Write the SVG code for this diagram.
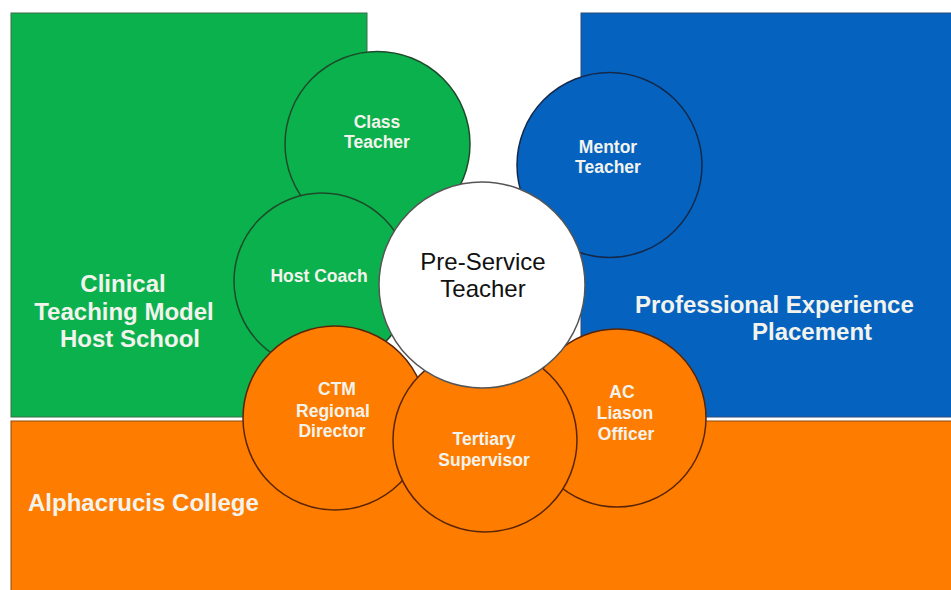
<svg xmlns="http://www.w3.org/2000/svg" width="951" height="590" viewBox="0 0 951 590">
  <style>
    .lbl { font-family: "Liberation Sans", Arial, sans-serif; font-weight: bold; fill: #F3F3EE; text-anchor: middle; }
    .sm { font-size: 17.5px; }
    .big { font-size: 24px; }
    .ctr { font-family: "Liberation Sans", Arial, sans-serif; font-size: 24px; fill: #111; text-anchor: middle; }
    .g { fill: #0BB14C; stroke: #1E4A2A; stroke-width: 1.5; }
    .b { fill: #0563BF; stroke: #14284A; stroke-width: 1.5; }
    .o { fill: #FE7D00; stroke: #5A2505; stroke-width: 1.5; }
    .w { fill: #FFFFFF; stroke: #555555; stroke-width: 1.5; }
  </style>
  <rect width="951" height="590" fill="#FFFFFF"/>
  <g id="region-host-school">
    <rect x="11" y="13" width="356" height="404" fill="#0BB14C" stroke="#3C6E48" stroke-width="1"/>
    <text class="lbl big" x="123" y="292">Clinical</text>
    <text class="lbl big" x="124" y="320">Teaching Model</text>
    <text class="lbl big" x="130" y="347">Host School</text>
  </g>
  <g id="region-placement">
    <rect x="581" y="13" width="371" height="404" fill="#0563BF" stroke="#2C4C7A" stroke-width="1"/>
    <text class="lbl big" x="635" y="313" text-anchor="start" style="text-anchor:start">Professional Experience</text>
    <text class="lbl big" x="752" y="340" style="text-anchor:start">Placement</text>
  </g>
  <g id="region-college">
    <rect x="11" y="421" width="941" height="170" fill="#FE7D00" stroke="#8A4A10" stroke-width="1"/>
    <text class="lbl big" x="28" y="511" style="text-anchor:start">Alphacrucis College</text>
  </g>
  <g id="connectors"/>
  <g id="class-teacher">
    <circle class="g" cx="377.5" cy="144" r="92.5"/>
    <text class="lbl sm" x="377" y="128">Class</text>
    <text class="lbl sm" x="377" y="148">Teacher</text>
  </g>
  <g id="mentor-teacher">
    <circle class="b" cx="609.5" cy="165" r="92.5"/>
    <text class="lbl sm" x="608" y="153">Mentor</text>
    <text class="lbl sm" x="608" y="173">Teacher</text>
  </g>
  <g id="host-coach">
    <circle class="g" cx="322" cy="281" r="88"/>
    <text class="lbl sm" x="319" y="282">Host Coach</text>
  </g>
  <g id="ac-liason-officer">
    <circle class="o" cx="617" cy="418" r="89"/>
    <text class="lbl sm" x="622" y="398">AC</text>
    <text class="lbl sm" x="625" y="419">Liason</text>
    <text class="lbl sm" x="626" y="440">Officer</text>
  </g>
  <g id="ctm-regional-director">
    <circle class="o" cx="335" cy="418" r="92"/>
    <text class="lbl sm" x="337" y="395">CTM</text>
    <text class="lbl sm" x="333" y="417">Regional</text>
    <text class="lbl sm" x="332" y="437">Director</text>
  </g>
  <g id="tertiary-supervisor">
    <circle class="o" cx="485" cy="440" r="92"/>
    <text class="lbl sm" x="484" y="445">Tertiary</text>
    <text class="lbl sm" x="484" y="466">Supervisor</text>
  </g>
  <g id="pre-service-teacher">
    <circle class="w" cx="482" cy="285" r="103"/>
    <text class="ctr" x="483" y="270">Pre-Service</text>
    <text class="ctr" x="483" y="297">Teacher</text>
  </g>
</svg>
